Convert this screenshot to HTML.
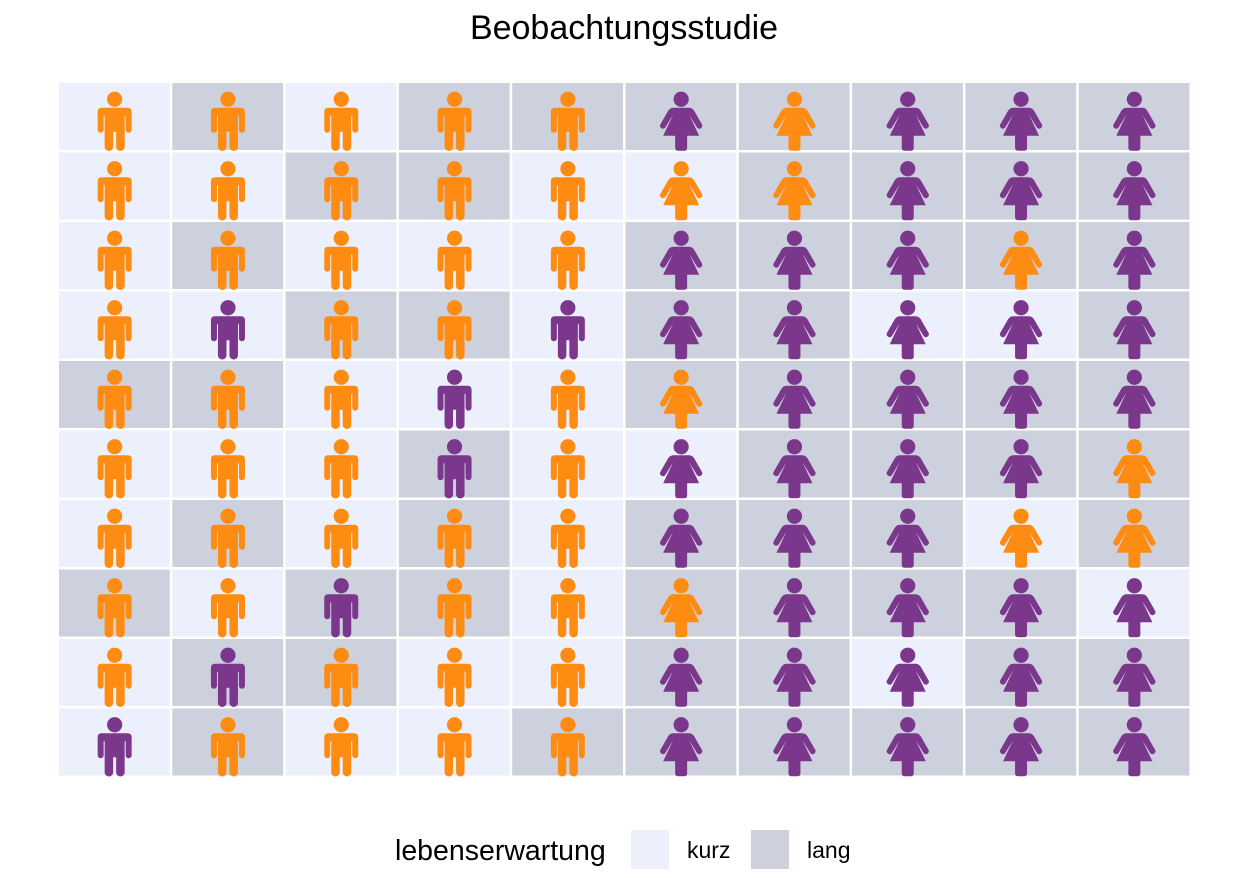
<!DOCTYPE html>
<html><head><meta charset="utf-8"><style>
body{margin:0;background:#fff;width:1248px;height:873px;overflow:hidden;font-family:"Liberation Sans",sans-serif;}
</style></head><body>
<svg id="chart" width="1248" height="873" xmlns="http://www.w3.org/2000/svg">
<text x="624" y="39" text-anchor="middle" font-size="34" font-family="Liberation Sans, sans-serif" fill="#000">Beobachtungsstudie</text>
<g id="cells"></g>
<g>
<text x="395" y="860" font-size="28.5" font-family="Liberation Sans, sans-serif">lebenserwartung</text>
<rect x="631" y="830" width="38" height="39" fill="#ECF0FC"/>
<text x="687" y="858" font-size="23" font-family="Liberation Sans, sans-serif">kurz</text>
<rect x="751" y="830" width="38" height="39" fill="#CDD1DE"/>
<text x="807" y="858" font-size="23" font-family="Liberation Sans, sans-serif">lang</text>
</g>
</svg>
<script>
// rows top to bottom, columns left to right; cols 0-4 male, 5-9 female
const genders = ['m','m','m','m','m','f','f','f','f','f'];
const lifeExp = [
"LDLDDDDDDD",
"LLDDLLDDDD",
"LDLLLDDDDD",
"LLDDLDDLLD",
"DDLLLDDDDD",
"LLLDLLDDDD",
"LDLDLDDDLD",
"DLDDLDDDDL",
"LDDLLDDLDD",
"LDLLDDDDDD"];
const groups = [
"OOOOOPOPPP",
"OOOOOOOPPP",
"OOOOOPPPOP",
"OPOOPPPPPP",
"OOOPOOPPPP",
"OOOPOPPPPO",
"OOOOOPPPOO",
"OOPOOOPPPP",
"OPOOOPPPPP",
"POOOOPPPPP"];
const NS='http://www.w3.org/2000/svg';
const x0=58,x1=1191,y0=82,y1=777;
const nC=10,nR=10;
const cw=(x1-x0)/nC, ch=(y1-y0)/nR;
const xs=c=>x0+c*cw, ys=r=>y0+r*ch;
const bgCol={L:'#ECF0FC',D:'#CDD1DE'}, fgCol={O:'#FF8C12',P:'#7A378B'};
const male="M-17,-8 q0,-4 4,-4 h26 q4,0 4,4 v18 a3,3 0 0 1 -6,0 v-14 h-1 v31 a4.25,4.25 0 0 1 -8.5,0 v-15 h-3 v15 a4.25,4.25 0 0 1 -8.5,0 v-31 h-1 v14 a3,3 0 0 1 -6,0 z";
const female="M-8,-12 h16 q3,0 5,3 l8,14 a3,3 0 0 1 -5,3 l-8,-13 l10,21 h-12 v12 q0,3 -3,3 h-6 q-3,0 -3,-3 v-12 h-12 l10,-21 l-8,13 a3,3 0 0 1 -5,-3 l8,-14 q2,-3 5,-3 z";
const g=document.getElementById('cells');
for(let r=0;r<nR;r++){for(let c=0;c<nC;c++){
 const rect=document.createElementNS(NS,'rect');
 
 
 rect.setAttribute('x',xs(c)+1);rect.setAttribute('y',ys(r)+1);
 rect.setAttribute('width',cw-2.5);rect.setAttribute('height',ch-2.5);
 rect.setAttribute('fill',bgCol[lifeExp[r][c]]);
 g.appendChild(rect);
 const cx=xs(c)+cw/2, cy=ys(r)+ch/2+1;
 const col=fgCol[groups[r][c]];
 const icon=document.createElementNS(NS,'g');
 
 
 icon.setAttribute('transform','translate('+cx+','+(cy+2)+')');
 icon.setAttribute('fill',col);
 const head=document.createElementNS(NS,'circle');
 head.setAttribute('cx',0);head.setAttribute('cy',-20.5);head.setAttribute('r',7.6);
 icon.appendChild(head);
 const body=document.createElementNS(NS,'path');
 body.setAttribute('d',genders[c]==='m'?male:female);
 icon.appendChild(body);
 g.appendChild(icon);
}}
</script>
</body></html>
